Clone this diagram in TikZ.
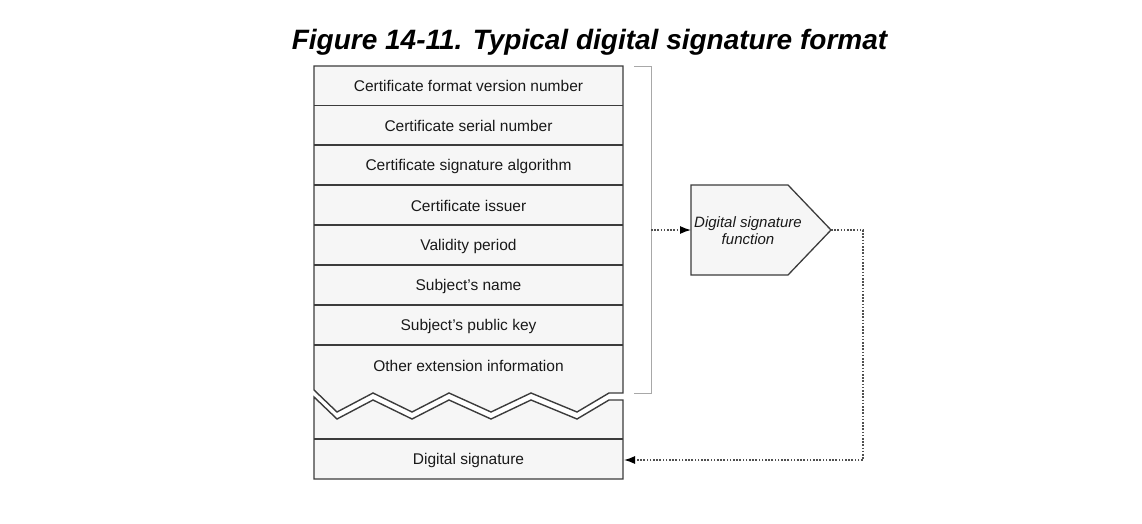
\documentclass[tikz,border=0pt]{standalone}
\usepackage{fontspec}
\setmainfont{Liberation Sans}
\usetikzlibrary{arrows.meta}
\definecolor{boxfill}{HTML}{F6F6F6}
\definecolor{boxline}{HTML}{3C3C3C}
\definecolor{brackgray}{HTML}{A8A8A8}
\definecolor{dotgray}{HTML}{505050}
\begin{document}
\begin{tikzpicture}[x=1pt,y=-1pt,
  piece/.style={draw=boxline, line width=1.4pt, fill=boxfill, line join=miter},
  sepline/.style={draw=boxline, line width=1.4pt},
  rowtext/.style={font=\fontsize{15.5}{18}\selectfont, text=black!90, inner sep=0pt},
  functext/.style={font=\itshape\fontsize{15}{17}\selectfont, text=black!90, align=center, inner sep=0pt},
  titletext/.style={font=\bfseries\itshape\fontsize{28}{30}\selectfont, inner sep=0pt, anchor=base},
  brack/.style={draw=brackgray, line width=1pt},
  dotline/.style={draw=dotgray, line width=1.3pt, dash pattern=on 1.6pt off 1.6pt},
  tiphead/.style={-{Latex[length=11pt,width=8pt,fill=black,color=black]}}
]
\useasboundingbox (0,0) rectangle (1142,524);
% title
\node[titletext] (title) at (589.5,50) {Figure 14-11. Typical digital signature format};
% upper piece
\path[piece] (314,66) -- (623,66) -- (623,393) -- (609,393) -- (577,412) -- (531,393)
  -- (491,412) -- (449,393) -- (412,412) -- (373,393) -- (337,412) -- (314,390) -- cycle;
% lower piece
\path[piece] (314,397) -- (337,419) -- (373,400) -- (412,419) -- (449,400) -- (491,419)
  -- (531,400) -- (577,419) -- (609,400) -- (623,400) -- (623,479) -- (314,479) -- cycle;
% separators
\foreach \yy in {105.5,145,185,225,265,305,345,439}{
  \draw[sepline] (314,\yy) -- (623,\yy);
}
% row texts
\node[rowtext] (r1) at (468.5,86) {Certificate format version number};
\node[rowtext] (r2) at (468.5,126) {Certificate serial number};
\node[rowtext] (r3) at (468.5,166) {Certificate signature algorithm};
\node[rowtext] (r4) at (468.5,206) {Certificate issuer};
\node[rowtext] (r5) at (468.5,246) {Validity period};
\node[rowtext] (r6) at (468.5,286) {Subject's name};
\node[rowtext] (r7) at (468.5,326) {Subject's public key};
\node[rowtext] (r8) at (468.5,366) {Other extension information};
\node[rowtext] (ds) at (468.5,460) {Digital signature};
\coordinate (dsin) at (624,460);
% bracket
\draw[brack] (634,67) -- (651,67) -- (651,393) -- (634,393);
\coordinate (brk) at (651,230);
% digital signature function
\path[piece, line width=1.3pt] (691,185) -- (788,185) -- (831,230) -- (788,275) -- (691,275) -- cycle;
\node[functext] (dsf) at (748,231) {Digital signature\\function};
\coordinate (dsfin) at (691,230);
\coordinate (dsfout) at (831,230);
\coordinate (corner1) at (863,230);
\coordinate (corner2) at (863,460);
% connectors
\draw[dotline, tiphead] (brk) -- (dsfin);
\draw[dotline, tiphead] (dsfout) -- (corner1) -- (corner2) -- (dsin);
\end{tikzpicture}
\end{document}
